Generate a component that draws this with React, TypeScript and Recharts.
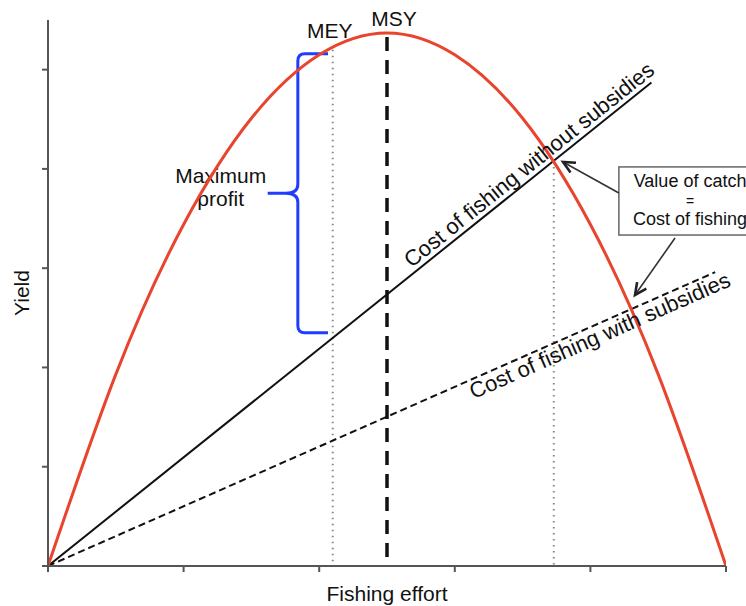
import { LineChart, Line, XAxis, YAxis, ReferenceLine, ReferenceArea, Label } from 'recharts';

// yield curve (effort 0..5, yield in tick units)
const effort = [0, 0.5, 1, 1.5, 2, 2.5, 3, 3.5, 4, 4.5, 5];
const yieldValues = [0, 1.93, 3.44, 4.51, 5.15, 5.37, 5.15, 4.51, 3.44, 1.93, 0];

// cost lines (start, end)
const noSubsidyEffort = [0, 4.45];
const noSubsidyCost = [0, 4.87];
const subsidyEffort = [0, 4.92];
const subsidyCost = [0, 2.96];

const xTicks = [0, 1, 2, 3, 4, 5];
const yTicks = [0, 1, 2, 3, 4, 5];

// markers
const msy = { x: 2.5, top: 5.33 };
const mey = { x: 2.1, top: 5.2 };
const breakEven = { x: 3.73, top: 4.08 };
const profitBrace = { x1: 1.62, x2: 2.065, y1: 2.35, y2: 5.16 };
const noteBox = { x1: 4.21, x2: 5.26, y1: 3.334, y2: 4.02 };
const arrows = [
  { from: { x: 4.21, y: 3.757 }, to: { x: 3.798, y: 4.07 } },
  { from: { x: 4.624, y: 3.304 }, to: { x: 4.329, y: 2.73 } },
];

const yieldData = effort.map((x, i) => ({ x, y: yieldValues[i] }));
const noSubsidyData = noSubsidyEffort.map((x, i) => ({ x, y: noSubsidyCost[i] }));
const subsidyData = subsidyEffort.map((x, i) => ({ x, y: subsidyCost[i] }));

const RED = '#e8442e';
const BLUE = '#1f3cff';
const AXIS = '#555';
const INK = '#111';

const markerLine = (label: string, dash: string, width: number, color: string, dx: number, dy: number) =>
  (props: any) => {
    const { x1, y1, x2, y2 } = props;
    const top = Math.min(y1, y2);
    const bottom = Math.max(y1, y2);
    return (
      <g>
        <line x1={x1} y1={top} x2={x2} y2={bottom} stroke={color} strokeWidth={width} strokeDasharray={dash} />
        {label && (
          <text x={x1 + dx} y={top - dy} textAnchor="middle" fontSize={21} fill={INK}>
            {label}
          </text>
        )}
      </g>
    );
  };

const slopeLabel = (text: string, t: number, offset: number) => (props: any) => {
  const { x1, y1, x2, y2 } = props;
  const a = Math.atan2(y2 - y1, x2 - x1);
  const cx = x1 + (x2 - x1) * t + -Math.sin(a) * offset;
  const cy = y1 + (y2 - y1) * t + Math.cos(a) * offset;
  const deg = (a * 180) / Math.PI;
  return (
    <text x={cx} y={cy} textAnchor="middle" fontSize={22} fill={INK} transform={`rotate(${deg}, ${cx}, ${cy})`}>
      {text}
    </text>
  );
};

const arrowShape = (props: any) => {
  const { x1, y1, x2, y2 } = props;
  const a = Math.atan2(y2 - y1, x2 - x1);
  const len = 13;
  const spread = 0.45;
  const l = `${x2 - len * Math.cos(a - spread)},${y2 - len * Math.sin(a - spread)}`;
  const r = `${x2 - len * Math.cos(a + spread)},${y2 - len * Math.sin(a + spread)}`;
  return (
    <g>
      <line x1={x1} y1={y1} x2={x2} y2={y2} stroke="#333" strokeWidth={1.6} />
      <polyline points={`${l} ${x2},${y2} ${r}`} fill="none" stroke="#222" strokeWidth={2.6} />
    </g>
  );
};

const braceShape = (props: any) => {
  const { x, y, width, height } = props;
  const xr = x + width;
  const xv = x + width / 2;
  const yb = y + height;
  const ym = y + height / 2;
  const r = 7;
  const d = [
    `M ${xr} ${y}`,
    `L ${xv + r} ${y}`,
    `Q ${xv} ${y} ${xv} ${y + r}`,
    `L ${xv} ${ym - 9}`,
    `Q ${xv} ${ym} ${xv - 12} ${ym}`,
    `L ${x} ${ym}`,
    `M ${x} ${ym}`,
    `L ${xv - 12} ${ym}`,
    `Q ${xv} ${ym} ${xv} ${ym + 9}`,
    `L ${xv} ${yb - r}`,
    `Q ${xv} ${yb} ${xv + r} ${yb}`,
    `L ${xr} ${yb}`,
  ].join(' ');
  return (
    <g>
      <path d={d} fill="none" stroke={BLUE} strokeWidth={3} strokeLinejoin="round" />
      <text x={x - 47} y={ym - 10} textAnchor="middle" fontSize={21} fill={INK}>
        Maximum
      </text>
      <text x={x - 47} y={ym + 13} textAnchor="middle" fontSize={21} fill={INK}>
        profit
      </text>
    </g>
  );
};

const boxShape = (props: any) => {
  const { x, y, width, height } = props;
  const cx = x + width / 2;
  return (
    <g>
      <rect x={x} y={y} width={width} height={height} fill="#fff" stroke="#666" strokeWidth={1.5} />
      <text x={cx} y={y + 20} textAnchor="middle" fontSize={18} fill={INK}>
        Value of catch
      </text>
      <text x={cx} y={y + 39} textAnchor="middle" fontSize={14} fill={INK}>
        =
      </text>
      <text x={cx} y={y + 58} textAnchor="middle" fontSize={18} fill={INK}>
        Cost of fishing
      </text>
    </g>
  );
};

export default function App() {
  return (
    <div
      style={{
        position: 'absolute',
        left: 0,
        top: 0,
        width: 746,
        height: 606,
        overflow: 'hidden',
        background: '#fff',
        fontFamily: '"Liberation Sans", Arial, sans-serif',
      }}
    >
      <LineChart width={800} height={606} margin={{ top: 20, right: 74, bottom: 10, left: 0 }}>
        <XAxis
          type="number"
          dataKey="x"
          domain={[0, 5]}
          ticks={xTicks}
          tickFormatter={() => ''}
          axisLine={{ stroke: AXIS, strokeWidth: 2 }}
          tickLine={{ stroke: AXIS, strokeWidth: 2 }}
          tickSize={6}
          height={30}
          allowDataOverflow
        >
          <Label value="Fishing effort" position="bottom" offset={-10} style={{ fontSize: 21, fill: INK }} />
        </XAxis>
        <YAxis
          type="number"
          domain={[0, 5.5]}
          ticks={yTicks}
          tickFormatter={() => ''}
          axisLine={{ stroke: AXIS, strokeWidth: 2 }}
          tickLine={{ stroke: AXIS, strokeWidth: 2 }}
          tickSize={6}
          width={48}
          allowDataOverflow
        >
          <Label value="Yield" angle={-90} position="center" dx={-2} style={{ fontSize: 21, fill: INK }} />
        </YAxis>

        <ReferenceLine
          segment={[{ x: mey.x, y: 0 }, { x: mey.x, y: mey.top }]}
          shape={markerLine('MEY', '1.5 4.5', 2, '#888', -3, 12)}
        />
        <ReferenceLine
          segment={[{ x: breakEven.x, y: 0 }, { x: breakEven.x, y: breakEven.top }]}
          shape={markerLine('', '1.5 4.5', 2, '#888', 0, 0)}
        />
        <ReferenceLine
          segment={[{ x: msy.x, y: 0 }, { x: msy.x, y: msy.top }]}
          shape={markerLine('MSY', '14 9', 3.5, INK, 7, 11)}
        />

        <Line data={noSubsidyData} dataKey="y" type="linear" stroke={INK} strokeWidth={2} dot={false} isAnimationActive={false} />
        <Line
          data={subsidyData}
          dataKey="y"
          type="linear"
          stroke={INK}
          strokeWidth={2}
          strokeDasharray="7 4"
          dot={false}
          isAnimationActive={false}
        />
        <Line data={yieldData} dataKey="y" type="natural" stroke={RED} strokeWidth={3} dot={false} isAnimationActive={false} />

        <ReferenceLine
          segment={noSubsidyData.map((p) => ({ x: p.x, y: p.y }))}
          shape={slopeLabel('Cost of fishing without subsidies', 0.81, -5)}
        />
        <ReferenceLine
          segment={subsidyData.map((p) => ({ x: p.x, y: p.y }))}
          shape={slopeLabel('Cost of fishing with subsidies', 0.82, 19)}
        />

        <ReferenceArea
          x1={profitBrace.x1}
          x2={profitBrace.x2}
          y1={profitBrace.y1}
          y2={profitBrace.y2}
          shape={braceShape}
        />
        <ReferenceArea
          x1={noteBox.x1}
          x2={noteBox.x2}
          y1={noteBox.y1}
          y2={noteBox.y2}
          ifOverflow="visible"
          shape={boxShape}
        />
        {arrows.map((a, i) => (
          <ReferenceLine key={i} segment={[a.from, a.to]} shape={arrowShape} />
        ))}
      </LineChart>
    </div>
  );
}
